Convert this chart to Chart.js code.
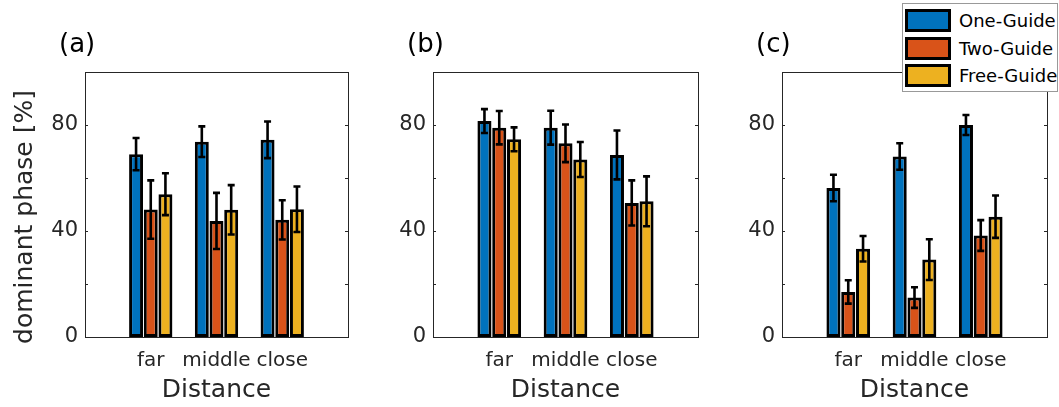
<!DOCTYPE html>
<html lang="en">

<head>
  <meta charset="UTF-8">
  <title>dominant phase</title>
  <script src="https://cdn.jsdelivr.net/npm/chart.js"></script>
  <style>
    body { margin: 0; background: #fff; }
    #wrap { position: relative; width: 1059px; height: 407px; }
    .panel { position: absolute; top: 0; height: 407px; }
    #legend {
      position: absolute; left: 902px; top: 3px; width: 154px; height: 87px;
      background: #fff; border: 1px solid #999; z-index: 5;
      font-family: "DejaVu Sans", sans-serif; font-size: 18px; color: #000;
    }
    #legend .item { position: absolute; left: 2px; height: 24px; white-space: nowrap; }
    #legend .sw { position: absolute; left: 0; top: 0; width: 40px; height: 17px; border: 3px solid #000; }
    #legend .lb { position: absolute; left: 54px; top: 0px; line-height: 24px; }
  </style>
</head>

<body>
  <div id="wrap">
    <div class="panel" style="left:0;width:360px"><canvas id="chartA"></canvas></div>
    <div class="panel" style="left:360px;width:350px"><canvas id="chartB"></canvas></div>
    <div class="panel" style="left:710px;width:349px"><canvas id="chartC"></canvas></div>
    <div id="legend"></div>
  </div>

<script>
  // data
  const categories = ['far', 'middle', 'close'];
  const seriesNames = ['One-Guide', 'Two-Guide', 'Free-Guide'];
  const seriesColors = ['#0072BD', '#D95319', '#EDB120'];
  const yTickLabels = [0, 40, 80];
  const yMinorTicks = [0, 20, 40, 60, 80, 100];

  // (a)
  const aOne = [69.0, 73.7, 74.4];
  const aOneErr = [6.1, 5.8, 6.9];
  const aTwo = [48.1, 43.8, 44.2];
  const aTwoErr = [11.0, 10.6, 7.4];
  const aFree = [53.9, 48.0, 48.2];
  const aFreeErr = [7.9, 9.3, 8.6];

  // (b)
  const bOne = [81.5, 79.0, 68.7];
  const bOneErr = [4.5, 6.4, 9.2];
  const bTwo = [79.0, 73.1, 50.6];
  const bTwoErr = [6.3, 7.1, 8.5];
  const bFree = [74.6, 67.0, 51.2];
  const bFreeErr = [4.5, 6.6, 9.4];

  // (c)
  const cOne = [56.2, 68.1, 80.0];
  const cOneErr = [5.0, 5.0, 3.8];
  const cTwo = [17.0, 14.9, 38.3];
  const cTwoErr = [4.4, 3.9, 5.8];
  const cFree = [33.3, 29.2, 45.4];
  const cFreeErr = [4.8, 7.7, 8.0];

  const textColor = '#262626';
  const font = 'DejaVu Sans';

  // empty slot on each side, like the matlab axis 0..4
  const axisLabels = [''].concat(categories).concat(['']);
  function pad(arr) {
    return [null].concat(arr).concat([null]);
  }

  const errorBars = {
    id: 'errorBars',
    afterDatasetsDraw(chart) {
      const ctx = chart.ctx;
      const y = chart.scales.y;
      ctx.save();
      ctx.strokeStyle = '#000';
      ctx.lineWidth = 2.6;
      chart.data.datasets.forEach((ds, i) => {
        const meta = chart.getDatasetMeta(i);
        meta.data.forEach((bar, j) => {
          const v = ds.data[j];
          if (v == null) return;
          const e = ds.errors[j];
          const top = y.getPixelForValue(v + e);
          const bot = y.getPixelForValue(v - e);
          const x = bar.x;
          ctx.beginPath();
          ctx.moveTo(x, top);
          ctx.lineTo(x, bot);
          ctx.moveTo(x - 3.5, top);
          ctx.lineTo(x + 3.5, top);
          ctx.moveTo(x - 3.5, bot);
          ctx.lineTo(x + 3.5, bot);
          ctx.stroke();
        });
      });
      ctx.restore();
    }
  };

  // box around the axes with inward ticks, the (a)/(b)/(c) tag and the y title
  const frame = {
    id: 'frame',
    afterDraw(chart, args, opts) {
      const ctx = chart.ctx;
      const a = chart.chartArea;
      const y = chart.scales.y;
      ctx.save();
      ctx.strokeStyle = '#262626';
      ctx.lineWidth = 1;
      ctx.strokeRect(Math.round(a.left) + 0.5, Math.round(a.top) + 0.5,
        Math.round(a.right - a.left), Math.round(a.bottom - a.top));
      ctx.beginPath();
      yMinorTicks.forEach(v => {
        const py = Math.round(y.getPixelForValue(v)) + 0.5;
        ctx.moveTo(a.left, py);
        ctx.lineTo(a.left + 3, py);
        ctx.moveTo(a.right, py);
        ctx.lineTo(a.right - 3, py);
      });
      ctx.stroke();
      ctx.fillStyle = '#000';
      ctx.font = '26px "' + font + '"';
      ctx.textBaseline = 'middle';
      ctx.textAlign = 'left';
      ctx.fillText(opts.tag, a.left - 26, 45);
      if (opts.yTitle) {
        // matlab puts it a bit lower than the axis centre
        ctx.fillStyle = textColor;
        ctx.font = '25px "' + font + '"';
        ctx.textAlign = 'center';
        ctx.translate(25, 217);
        ctx.rotate(-Math.PI / 2);
        ctx.fillText(opts.yTitle, 0, 0);
      }
      ctx.restore();
    }
  };

  function makePanel(id, tag, values, errors, yWidth, rightPad, yTitle) {
    const datasets = values.map((vals, i) => ({
      label: seriesNames[i],
      data: pad(vals),
      errors: pad(errors[i]),
      backgroundColor: seriesColors[i],
      borderColor: '#000',
      borderWidth: 3,
      borderSkipped: false,
      categoryPercentage: 0.67,
      barPercentage: 0.95
    }));

    return new Chart(document.getElementById(id), {
      type: 'bar',
      data: { labels: axisLabels, datasets: datasets },
      plugins: [errorBars, frame],
      options: {
        responsive: true,
        maintainAspectRatio: false,
        animation: false,
        layout: { padding: { top: 72, right: rightPad, left: 0, bottom: 0 } },
        plugins: {
          legend: { display: false },
          tooltip: { enabled: false },
          frame: { tag: tag, yTitle: yTitle }
        },
        scales: {
          x: {
            offset: false,
            grid: { display: false, drawTicks: false },
            border: { display: false },
            ticks: {
              autoSkip: false, maxRotation: 0, padding: 12,
              color: textColor, font: { family: font, size: 20 }
            },
            title: {
              display: true, text: 'Distance', color: textColor,
              font: { family: font, size: 25 }, padding: { top: 0, bottom: 2 }
            },
            afterFit(scale) { scale.height = 70; }
          },
          y: {
            min: 0,
            max: 100,
            grid: { display: false, drawTicks: false },
            border: { display: false },
            ticks: { padding: 7, color: textColor, font: { family: font, size: 21 } },
            afterBuildTicks(scale) {
              scale.ticks = yTickLabels.map(v => ({ value: v }));
            },
            afterFit(scale) { scale.width = yWidth; }
          }
        }
      }
    });
  }

  makePanel('chartA', '(a)', [aOne, aTwo, aFree], [aOneErr, aTwoErr, aFreeErr], 85, 10, 'dominant phase [%]');
  makePanel('chartB', '(b)', [bOne, bTwo, bFree], [bOneErr, bTwoErr, bFreeErr], 73, 10, null);
  makePanel('chartC', '(c)', [cOne, cTwo, cFree], [cOneErr, cTwoErr, cFreeErr], 72, 11, null);

  // legend box top right
  const legend = document.getElementById('legend');
  seriesNames.forEach((name, i) => {
    const item = document.createElement('div');
    item.className = 'item';
    item.style.top = (5 + i * 27.5) + 'px';
    item.innerHTML = '<div class="sw" style="background:' + seriesColors[i] + '"></div>' +
      '<span class="lb">' + name + '</span>';
    legend.appendChild(item);
  });
</script>
</body>

</html>
